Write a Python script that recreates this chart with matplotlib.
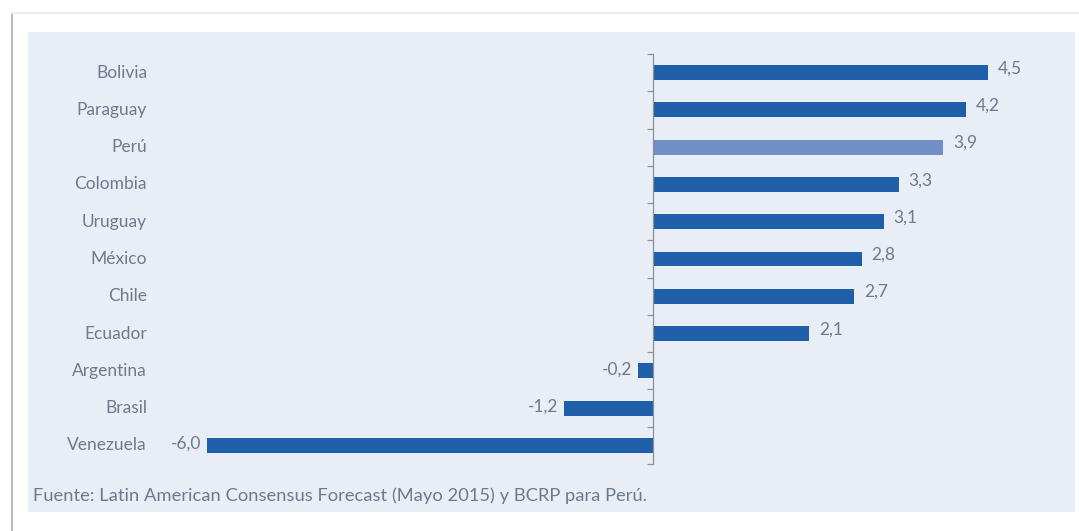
import matplotlib
matplotlib.use("Agg")
import matplotlib.pyplot as plt
from matplotlib.patches import Rectangle
from matplotlib.lines import Line2D
from matplotlib import transforms

# growth forecast 2015 (%)
countries = ["Bolivia", "Paraguay", "Perú", "Colombia", "Uruguay", "México",
             "Chile", "Ecuador", "Argentina", "Brasil", "Venezuela"]
values = [4.5, 4.2, 3.9, 3.3, 3.1, 2.8, 2.7, 2.1, -0.2, -1.2, -6.0]
highlight = "Perú"
source = "Fuente: Latin American Consensus Forecast (Mayo 2015) y BCRP para Perú."

FONT = ["Lato", "DejaVu Sans"]
TXT = "#6d7a8c"
BAR = "#1f5ea8"
BAR_HI = "#6f8fc6"
PANEL = "#e9eef6"

W, H = 1079, 531
fig = plt.figure(figsize=(W / 100, H / 100), dpi=100)
fig.patch.set_facecolor("white")

# outer frame + shaded panel (kept behind the axes)
fig.add_artist(Line2D([12 / W, 12 / W], [0, 1 - 13 / H], color="#b9b9b9", lw=1.5, zorder=-2))
fig.add_artist(Line2D([12 / W, 1], [1 - 13 / H, 1 - 13 / H], color="#ececec", lw=1.5, zorder=-2))
fig.add_artist(Rectangle((28 / W, 1 - 512 / H), (1075 - 28) / W, (512 - 32) / H,
                         transform=fig.transFigure, facecolor=PANEL, edgecolor="none",
                         zorder=-1))

ax = fig.add_axes([150 / W, 1 - 464 / H, (1070 - 150) / W, (464 - 54) / H])
ax.set_facecolor("none")

ypos = list(range(len(countries)))
colors = [BAR_HI if c == highlight else BAR for c in countries]
ax.barh(ypos, values, height=0.4, color=colors)

ax.set_xlim(-6.76, 5.60)
ax.set_ylim(len(countries) - 0.5, -0.5)

for s in ["top", "right", "bottom"]:
    ax.spines[s].set_visible(False)
ax.spines["left"].set_position(("data", 0))
ax.spines["left"].set_color("#8a8f99")
ax.spines["left"].set_linewidth(0.9)
ax.set_xticks([])
ax.set_yticks([i - 0.5 for i in range(len(countries) + 1)])
ax.set_yticklabels([])
ax.tick_params(axis="y", length=4, width=0.9, color="#8a8f99", direction="out")

trans = transforms.blended_transform_factory(fig.transFigure, ax.transData)
for y, c in zip(ypos, countries):
    ax.text(147 / W, y, c, transform=trans, ha="right", va="center",
            fontsize=12.5, color=TXT, family=FONT)

for y, v in zip(ypos, values):
    lbl = f"{v:.1f}".replace(".", ",")
    if v >= 0:
        ax.annotate(lbl, (v, y), xytext=(7, 3), textcoords="offset points",
                    ha="left", va="center", fontsize=12.5, color=TXT, family=FONT)
    else:
        ax.annotate(lbl, (v, y), xytext=(-4, 1), textcoords="offset points",
                    ha="right", va="center", fontsize=12.5, color=TXT, family=FONT)

fig.text(33 / W, 1 - 496 / H, source, ha="left", va="center",
         fontsize=13.2, color=TXT, family=FONT)

fig.savefig("out.png", dpi=100)
